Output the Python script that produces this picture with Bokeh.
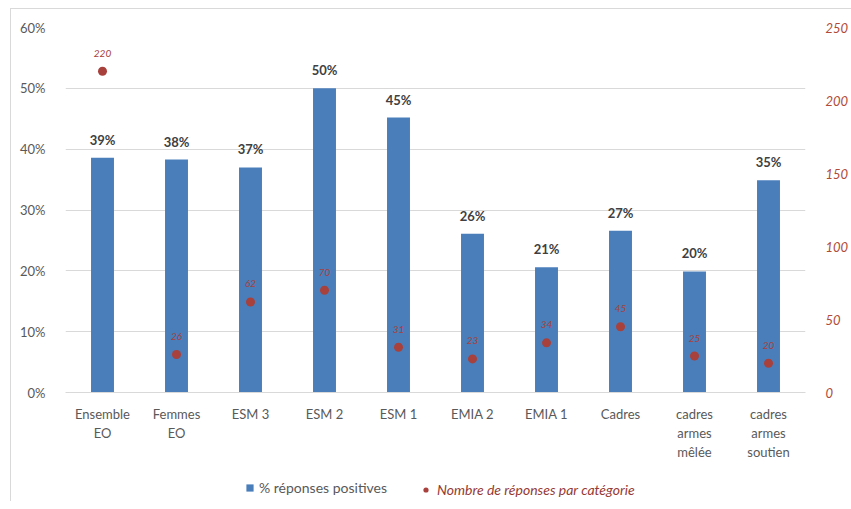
from bokeh.plotting import figure
from bokeh.layouts import column
from bokeh.models import (ColumnDataSource, Range1d, LinearAxis, NumeralTickFormatter,
                          FixedTicker, Legend, LegendItem, FactorRange)
from bokeh.core.properties import value
from bokeh.embed import file_html
from bokeh.resources import INLINE

categories = ["Ensemble\nEO", "Femmes\nEO", "ESM 3", "ESM 2", "ESM 1", "EMIA 2",
              "EMIA 1", "Cadres", "cadres\narmes\nmêlée", "cadres\narmes\nsoutien"]
pct_positive = [0.386, 0.383, 0.370, 0.500, 0.452, 0.261, 0.206, 0.266, 0.199, 0.349]
n_responses = [220, 26, 62, 70, 31, 23, 34, 45, 25, 20]
left_ticks = [0, 0.1, 0.2, 0.3, 0.4, 0.5, 0.6]
right_ticks = [0, 50, 100, 150, 200, 250]
series_names = ["% réponses positives", "Nombre de réponses par catégorie"]

FONT = "Lato"
BLUE = "#4A7EBB"
RED = "#A8403C"

src = ColumnDataSource(dict(
    cat=categories,
    pct=pct_positive,
    pct_lbl=[f"{round(v * 100):.0f}%" for v in pct_positive],
    n=n_responses,
    n_lbl=[str(v) for v in n_responses],
))

fig = figure(x_range=FactorRange(*categories), y_range=Range1d(0, 0.6),
             width=840, height=466, output_backend="svg", toolbar_location=None,
             min_border_left=54, min_border_top=18, min_border_right=38, min_border_bottom=83)
fig.outline_line_color = None
fig.extra_y_ranges = {"n": Range1d(0, 250)}

fig.vbar(x="cat", top="pct", width=0.31, source=src, fill_color=BLUE, line_color=None)
fig.scatter(x="cat", y="n", y_range_name="n", source=src, size=9,
            fill_color=RED, line_color=None)

fig.text(x="cat", y="pct", text="pct_lbl", source=src, text_align="center",
         text_baseline="bottom", y_offset=-10, text_font=value(FONT), text_font_size="13px",
         text_font_style="bold", text_color="#404040")
fig.text(x="cat", y="n", text="n_lbl", source=src, y_range_name="n", text_align="center",
         text_baseline="middle", y_offset=-18, text_font=value(FONT), text_font_size="10px",
         text_font_style="italic", text_color=RED)

# grid
fig.xgrid.grid_line_color = None
fig.ygrid.grid_line_color = "#D9D9D9"
fig.ygrid.ticker = FixedTicker(ticks=left_ticks)

# left axis
ya = fig.yaxis[0]
ya.ticker = FixedTicker(ticks=left_ticks)
ya.formatter = NumeralTickFormatter(format="0%")
ya.axis_line_color = None
ya.major_tick_line_color = None
ya.minor_tick_line_color = None
ya.major_label_text_font = FONT
ya.major_label_text_font_size = "13px"
ya.major_label_text_color = "#595959"
ya.major_label_standoff = 14

# right axis
ra = LinearAxis(y_range_name="n", ticker=FixedTicker(ticks=right_ticks))
ra.axis_line_color = None
ra.major_tick_line_color = None
ra.minor_tick_line_color = None
ra.major_label_text_font = FONT
ra.major_label_text_font_size = "13px"
ra.major_label_text_font_style = "italic"
ra.major_label_text_color = "#B04A3A"
ra.major_label_standoff = 14
fig.add_layout(ra, "right")

# bottom axis
xa = fig.xaxis[0]
xa.axis_line_color = "#D9D9D9"
xa.major_tick_line_color = None
xa.minor_tick_line_color = None
xa.major_label_text_font = FONT
xa.major_label_text_font_size = "13px"
xa.major_label_text_color = "#595959"
xa.major_label_text_line_height = 1.2
xa.major_label_standoff = 7

# legend strip (separate figure so the legend is not clipped by the frame)
lg = figure(width=840, height=26, output_backend="svg", toolbar_location=None,
            x_range=FactorRange(*categories), y_range=Range1d(0, 1),
            min_border_left=0, min_border_right=0, min_border_top=0, min_border_bottom=0)
lg.axis.visible = False
lg.grid.visible = False
lg.outline_line_color = None
r_bar = lg.vbar(x="cat", top="pct", width=0.31, source=src, fill_color=BLUE,
                line_color=None, visible=False)
r_dot = lg.scatter(x="cat", y="pct", source=src, size=9, fill_color=RED,
                   line_color=None, visible=False)


def make_legend(item, loc, color, style, gw, gh):
    lgd = Legend(items=[item], orientation="horizontal", location=loc)
    lgd.border_line_color = None
    lgd.background_fill_alpha = 0
    lgd.inactive_fill_alpha = 0
    lgd.label_text_font = FONT
    lgd.label_text_font_size = "14px"
    lgd.label_text_color = color
    lgd.label_text_font_style = style
    lgd.glyph_width = gw
    lgd.glyph_height = gh
    lgd.label_height = 14
    lgd.label_standoff = 5
    lgd.margin = 0
    lgd.padding = 0
    return lgd


lg.add_layout(make_legend(LegendItem(label=series_names[0], renderers=[r_bar]),
                          (180, 5), "#595959", "normal", 9, 9), "center")
lg.add_layout(make_legend(LegendItem(label=series_names[1], renderers=[r_dot]),
                          (354, 3), "#953A35", "italic", 13, 13), "center")

p = column(fig, lg, spacing=0)
p.styles = {"margin-left": "10px", "margin-top": "8px",
            "border-left": "1px solid #D9D9D9", "border-top": "1px solid #D9D9D9"}

open("out.html", "w").write(file_html(p, INLINE))
